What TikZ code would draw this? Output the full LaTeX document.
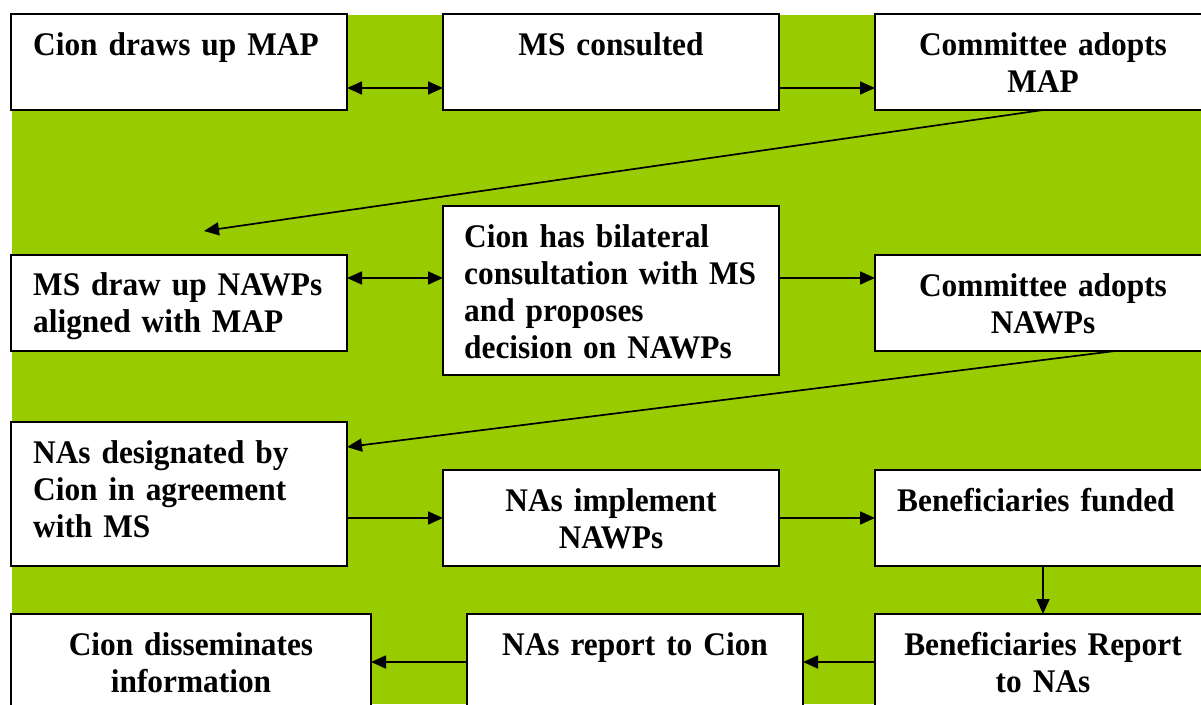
\documentclass[tikz,border=0pt]{standalone}
\usepackage{fontspec}
\setmainfont{Liberation Serif}[FakeStretch=0.95,WordSpace=0.8]
\usetikzlibrary{arrows.meta}
\definecolor{bggreen}{HTML}{99CC00}
\begin{document}
\begin{tikzpicture}[x=1pt,y=-1pt,
  boxnode/.style={draw=black,fill=white,line width=1.5pt,inner sep=0pt,outer sep=0pt,minimum width=336pt,minimum height=96pt},
  txtl/.style={anchor=base west,inner sep=0pt,text width=320pt,align=left,font=\fontsize{33}{37}\selectfont\bfseries},
  txtc/.style={anchor=base,inner sep=0pt,text width=320pt,align=center,font=\fontsize{33}{37}\selectfont\bfseries},
  arr/.style={line width=1.7pt,-{Triangle[length=15pt,width=13pt]}},
  darr/.style={line width=1.7pt,{Triangle[length=15pt,width=13pt]}-{Triangle[length=15pt,width=13pt]}}]
\useasboundingbox (0,0) rectangle (1201,704);
\fill[white] (0,0) rectangle (1201,704);
\fill[bggreen] (12,15) rectangle (1201,704);
% boxes
\node[boxnode] (A) at (179,62) {};
\node[boxnode] (B) at (611,62) {};
\node[boxnode] (C) at (1043,62) {};
\node[boxnode] (D) at (179,303) {};
\node[boxnode,minimum height=169pt] (E) at (611,290.5) {};
\node[boxnode] (F) at (1043,303) {};
\node[boxnode,minimum height=144pt] (G) at (179,494) {};
\node[boxnode] (H) at (611,518) {};
\node[boxnode] (I) at (1043,518) {};
\node[boxnode] (J) at (1043,662) {};
\node[boxnode] (K) at (635,662) {};
\node[boxnode,minimum width=360pt] (L) at (191,662) {};
% texts
\node[txtl] (tA) at (33,55) {Cion draws up MAP};
\node[txtc] (tB) at (611,55) {MS consulted};
\node[txtc] (tC) at (1043,55) {Committee adopts\\MAP};
\node[txtl] (tD) at (33,295) {MS draw up NAWPs\\aligned with MAP};
\node[txtl] (tE) at (464,247) {Cion has bilateral\\consultation with MS\\and proposes\\decision on NAWPs};
\node[txtc] (tF) at (1043,296) {Committee adopts\\NAWPs};
\node[txtl] (tG) at (33,463) {NAs designated by\\Cion in agreement\\with MS};
\node[txtc] (tH) at (611,511) {NAs implement\\NAWPs};
\node[txtl] (tI) at (897,511) {Beneficiaries funded};
\node[txtc] (tJ) at (1043,655) {Beneficiaries Report\\to NAs};
\node[txtc] (tK) at (635,655) {NAs report to Cion};
\node[txtc] (tL) at (191,655) {Cion disseminates\\information};
% connectors
\coordinate (dEnd) at (204,231);
\draw[darr] ([yshift=-26pt]A.east) -- ([yshift=-26pt]B.west);
\draw[arr] ([yshift=-26pt]B.east) -- ([yshift=-26pt]C.west);
\draw[arr] (C.south) -- (dEnd);
\draw[darr] ([yshift=25pt]D.east) -- ([yshift=25pt]D.east -| E.west);
\draw[arr] ([yshift=25pt]F.west -| E.east) -- ([yshift=25pt]F.west);
\draw[arr] ([xshift=72pt]F.south) -- ([yshift=47pt]G.east);
\draw[arr] (H.west -| G.east) -- (H.west);
\draw[arr] (H.east) -- (I.west);
\draw[arr] (I.south) -- (J.north);
\draw[arr] (J.west) -- (K.east);
\draw[arr] (K.west) -- (L.east);
\end{tikzpicture}
\end{document}
